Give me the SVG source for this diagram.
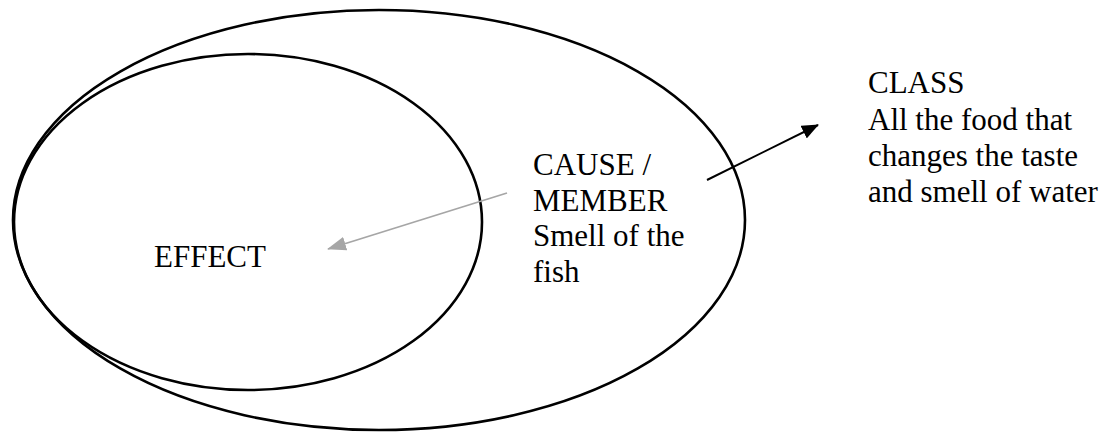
<svg xmlns="http://www.w3.org/2000/svg" width="1107" height="432" viewBox="0 0 1107 432">
  <defs>
    <style>
      .ell { fill: none; stroke: #000; stroke-width: 2.6; }
      .lbl { font-family: "Liberation Serif", "Times New Roman", "DejaVu Serif", serif; font-size: 31px; fill: #000; }
    </style>
    <marker id="ahBlack" markerWidth="17" markerHeight="14" refX="16" refY="7" orient="auto" markerUnits="userSpaceOnUse" viewBox="0 0 17 14">
      <path d="M0,0 L17,7 L0,14 Z" fill="#000"/>
    </marker>
    <marker id="ahGray" markerWidth="19" markerHeight="14" refX="18" refY="7" orient="auto" markerUnits="userSpaceOnUse" viewBox="0 0 19 14">
      <path d="M0,0 L19,7 L0,14 Z" fill="#a6a6a6"/>
    </marker>
  </defs>
  <rect width="1107" height="432" fill="#fff"/>
  <g id="class-ellipse">
    <ellipse class="ell" cx="379" cy="220" rx="366" ry="210"/>
  </g>
  <g id="effect-ellipse">
    <ellipse class="ell" cx="248" cy="222" rx="234" ry="168"/>
  </g>
  <g id="effect">
    <text class="lbl" x="154" y="267">EFFECT</text>
  </g>
  <g id="cause">
    <text class="lbl" x="533" y="175">CAUSE /</text>
    <text class="lbl" x="533" y="211">MEMBER</text>
    <text class="lbl" x="533" y="246">Smell of the</text>
    <text class="lbl" x="533" y="282">fish</text>
  </g>
  <g id="class">
    <text class="lbl" x="868" y="93">CLASS</text>
    <text class="lbl" x="868" y="130">All the food that</text>
    <text class="lbl" x="868" y="166">changes the taste</text>
    <text class="lbl" x="868" y="202">and smell of water</text>
  </g>
  <g id="connectors">
    <line x1="507" y1="193" x2="328" y2="249" stroke="#a6a6a6" stroke-width="1.8" marker-end="url(#ahGray)"/>
    <line x1="707" y1="180" x2="818" y2="125" stroke="#000" stroke-width="2" marker-end="url(#ahBlack)"/>
  </g>
</svg>
